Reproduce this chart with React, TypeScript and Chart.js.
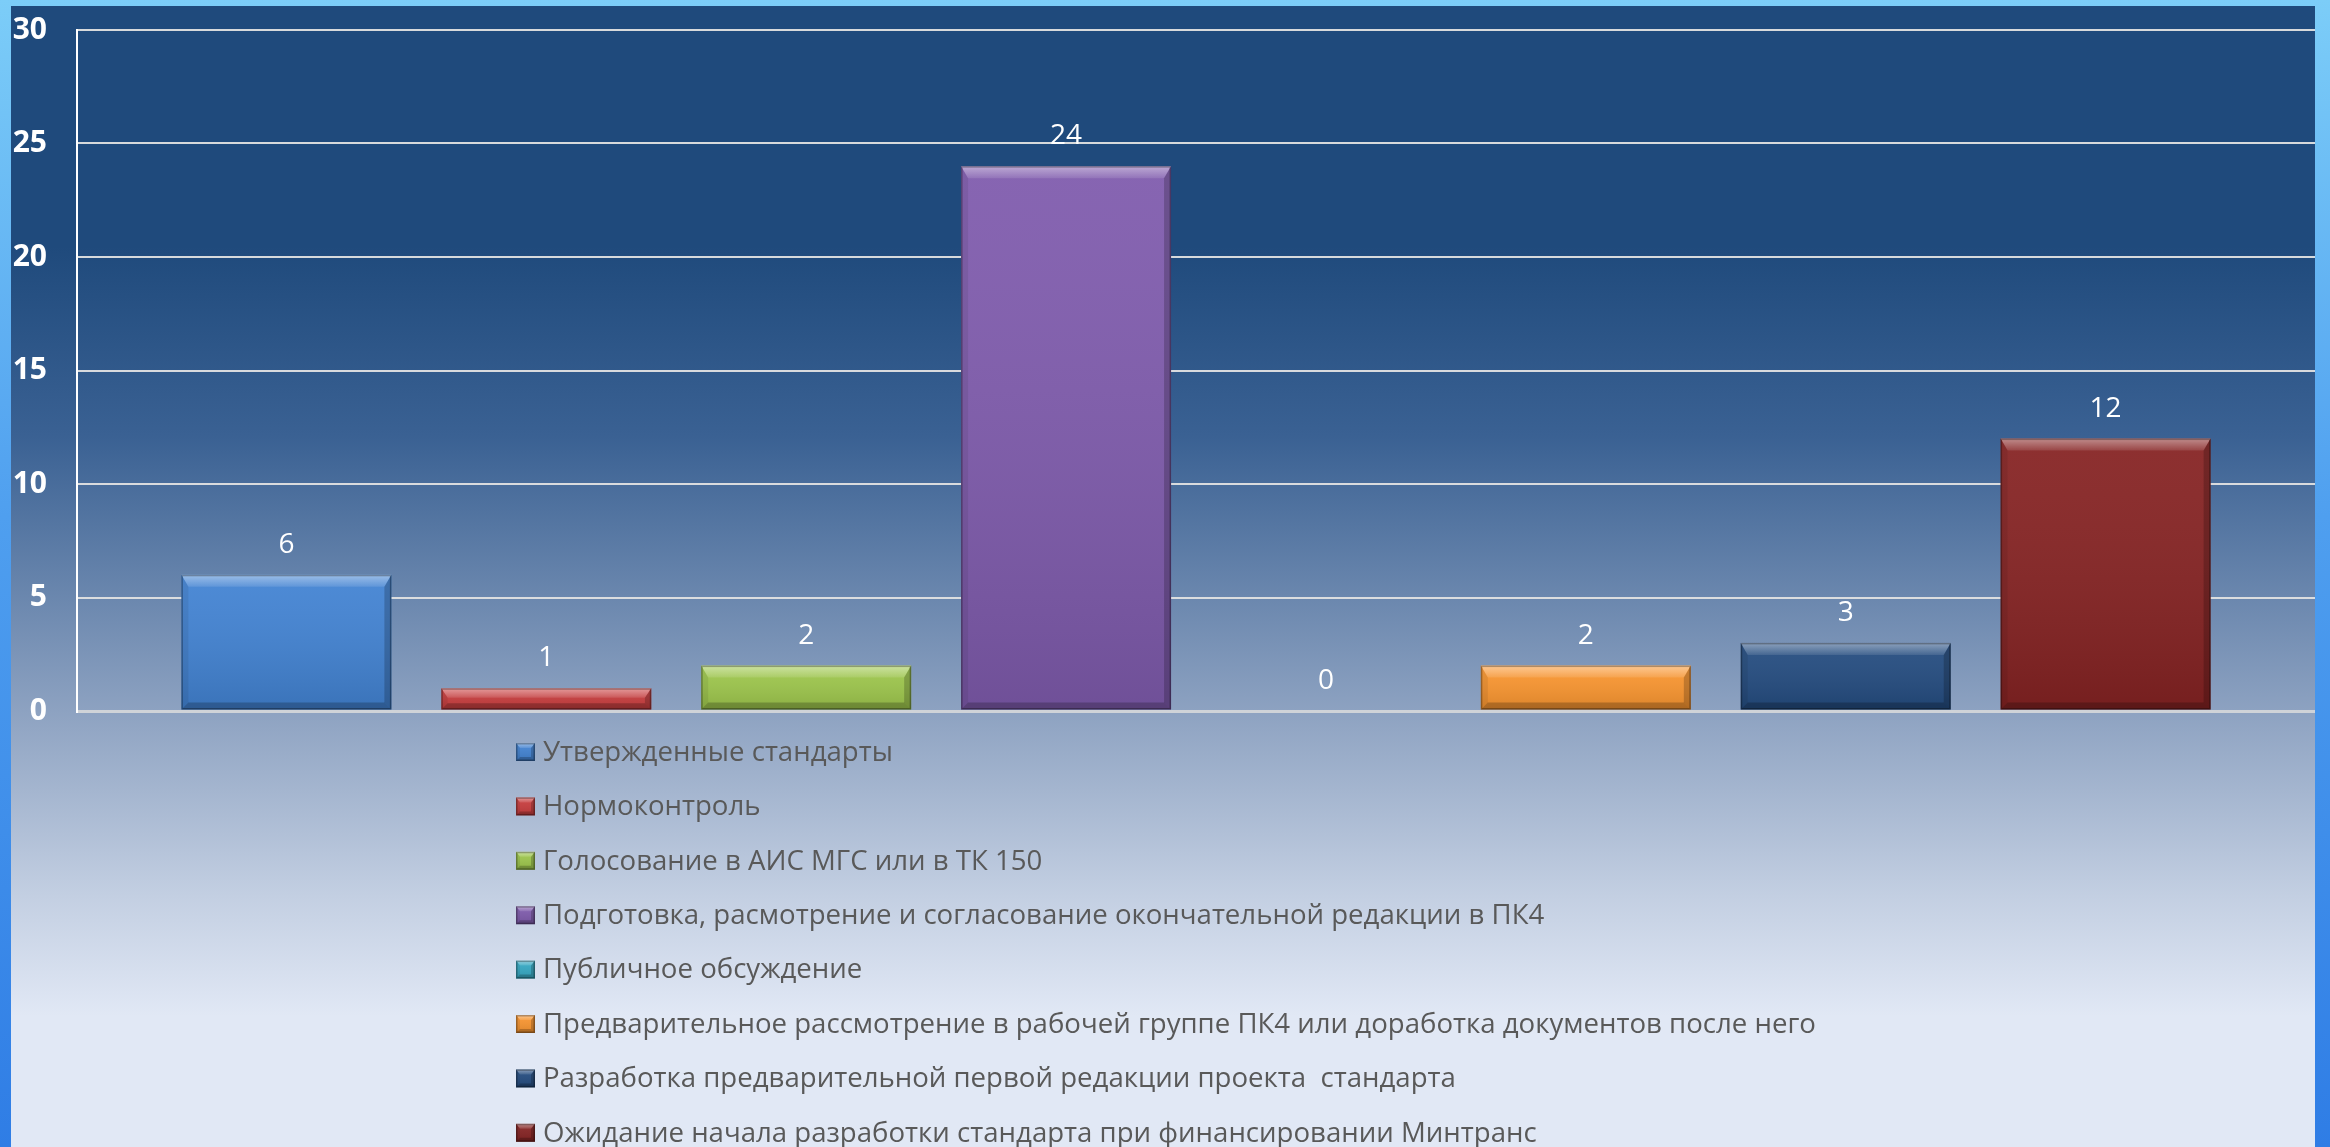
import React, { useEffect, useRef } from 'react';
import { Chart, registerables } from 'chart.js';

Chart.register(...registerables);

const categories = [''];
const seriesNames = [
  'Утвержденные стандарты',
  'Нормоконтроль',
  'Голосование в АИС МГС или в ТК 150',
  'Подготовка, расмотрение и согласование окончательной редакции в ПК4',
  'Публичное обсуждение',
  'Предварительное рассмотрение в рабочей группе ПК4 или доработка документов после него',
  'Разработка предварительной первой редакции проекта  стандарта',
  'Ожидание начала разработки стандарта при финансировании Минтранс',
];
const seriesValues = [6, 1, 2, 24, 0, 2, 3, 12];
const seriesColors = ['#4283d3', '#c93d3e', '#9ec74c', '#7f5bad', '#35a9c4', '#fa9630', '#244c80', '#862323'];
const yMin = 0;
const yMax = 30;
const yStep = 5;

const FONT = '"Open Sans", "Noto Sans", sans-serif';

function bevelRect(ctx: CanvasRenderingContext2D, l: number, t: number, r: number, b: number, topB: number, sideB: number) {
  const w = r - l;
  const h = b - t;
  const g = ctx.createLinearGradient(0, t, 0, b);
  g.addColorStop(0, 'rgba(255,255,255,0.06)');
  g.addColorStop(1, 'rgba(0,0,0,0.12)');
  ctx.fillStyle = g;
  ctx.fillRect(l, t, w, h);
  const tg = ctx.createLinearGradient(0, t, 0, t + topB);
  tg.addColorStop(0, 'rgba(255,255,255,0.45)');
  tg.addColorStop(1, 'rgba(255,255,255,0.10)');
  ctx.fillStyle = tg;
  ctx.beginPath();
  ctx.moveTo(l, t);
  ctx.lineTo(r, t);
  ctx.lineTo(r - sideB, t + topB);
  ctx.lineTo(l + sideB, t + topB);
  ctx.closePath();
  ctx.fill();
  ctx.fillStyle = 'rgba(0,0,0,0.07)';
  ctx.beginPath();
  ctx.moveTo(l, t);
  ctx.lineTo(l + sideB, t + topB);
  ctx.lineTo(l + sideB, b - sideB);
  ctx.lineTo(l, b);
  ctx.closePath();
  ctx.fill();
  ctx.fillStyle = 'rgba(0,0,0,0.2)';
  ctx.beginPath();
  ctx.moveTo(r, t);
  ctx.lineTo(r - sideB, t + topB);
  ctx.lineTo(r - sideB, b - sideB);
  ctx.lineTo(r, b);
  ctx.closePath();
  ctx.fill();
  ctx.fillStyle = 'rgba(0,0,0,0.22)';
  ctx.beginPath();
  ctx.moveTo(l, b);
  ctx.lineTo(l + sideB, b - sideB);
  ctx.lineTo(r - sideB, b - sideB);
  ctx.lineTo(r, b);
  ctx.closePath();
  ctx.fill();
  ctx.strokeStyle = 'rgba(0,0,0,0.3)';
  ctx.lineWidth = 1.5;
  ctx.strokeRect(l + 0.75, t + 0.75, w - 1.5, h - 1.5);
}

const bevelPlugin = {
  id: 'bevelBars',
  afterDatasetsDraw(chart: any) {
    const ctx: CanvasRenderingContext2D = chart.ctx;
    chart.data.datasets.forEach((ds: any, i: number) => {
      const meta = chart.getDatasetMeta(i);
      meta.data.forEach((el: any) => {
        const { x, y, base, width } = el.getProps(['x', 'y', 'base', 'width'], true);
        const h = base - y;
        if (h < 1) return;
        ctx.save();
        const topB = Math.min(12, h * 0.45);
        const sideB = Math.min(7, h * 0.3);
        bevelRect(ctx, x - width / 2, y, x + width / 2, base, topB, sideB);
        ctx.restore();
      });
    });
    ctx.save();
    ctx.fillStyle = '#ffffff';
    ctx.font = `400 28px ${FONT}`;
    ctx.textAlign = 'center';
    ctx.textBaseline = 'middle';
    chart.data.datasets.forEach((ds: any, i: number) => {
      const meta = chart.getDatasetMeta(i);
      meta.data.forEach((el: any, j: number) => {
        const { x, y } = el.getProps(['x', 'y'], true);
        ctx.fillText(String(ds.data[j]), x, y - 30);
      });
    });
    ctx.restore();
  },
};

const legendPlugin = {
  id: 'customLegend',
  afterDraw(chart: any) {
    const ctx: CanvasRenderingContext2D = chart.ctx;
    const area = chart.chartArea;
    const startY = area.bottom + 41;
    const rowH = 54.4;
    const boxX = 516;
    const boxW = 19;
    const boxH = 18;
    ctx.save();
    ctx.font = `400 27.6px ${FONT}`;
    ctx.textBaseline = 'middle';
    ctx.textAlign = 'left';
    chart.data.datasets.forEach((ds: any, i: number) => {
      const cy = startY + i * rowH;
      const t = cy - boxH / 2;
      ctx.fillStyle = ds.backgroundColor;
      ctx.fillRect(boxX, t, boxW, boxH);
      bevelRect(ctx, boxX, t, boxX + boxW, t + boxH, 5, 4);
      ctx.fillStyle = '#595959';
      ctx.fillText(ds.label, boxX + 27, cy + 1);
    });
    ctx.restore();
  },
};

export default function App() {
  const canvasRef = useRef<HTMLCanvasElement | null>(null);

  useEffect(() => {
    document.body.style.margin = '0';
    const canvas = canvasRef.current;
    if (!canvas) return;
    const chart = new Chart(canvas, {
      type: 'bar',
      data: {
        labels: categories,
        datasets: seriesNames.map((name, i) => ({
          label: name,
          data: [seriesValues[i]],
          backgroundColor: seriesColors[i],
          borderWidth: 0,
        })),
      },
      options: {
        animation: false,
        responsive: false,
        maintainAspectRatio: false,
        layout: { padding: { left: 0, top: 30, right: 15, bottom: 436 } },
        datasets: {
          bar: { categoryPercentage: 0.929, barPercentage: 0.808 },
        },
        plugins: {
          legend: { display: false },
          tooltip: { enabled: false },
        },
        scales: {
          x: {
            display: false,
            offset: true,
          },
          y: {
            min: yMin,
            max: yMax,
            afterFit: (scale: any) => {
              scale.width = 77;
            },
            ticks: {
              stepSize: yStep,
              color: '#ffffff',
              padding: 0,
              font: { family: FONT, size: 30, weight: 'bold' },
            },
            grid: {
              drawTicks: true,
              tickLength: 30,
              tickColor: 'rgba(0,0,0,0)',
              color: (c: any) => (c.tick && c.tick.value === 0 ? '#cfd3d8' : 'rgba(225,225,225,0.95)'),
              lineWidth: (c: any) => (c.tick && c.tick.value === 0 ? 3 : 2),
            },
            border: { display: true, color: '#ffffff', width: 2 },
          },
        },
      },
      plugins: [bevelPlugin, legendPlugin],
    });
    return () => chart.destroy();
  }, []);

  return (
    <div
      style={{
        position: 'fixed',
        left: 0,
        top: 0,
        width: 2330,
        height: 1147,
        overflow: 'hidden',
        background: 'linear-gradient(to bottom, #7ccdf8 0%, #4f9fef 45%, #2f7de5 100%)',
      }}
    >
      <div
        style={{
          position: 'absolute',
          left: 11,
          top: 6,
          width: 2304,
          height: 1141,
          background:
            'linear-gradient(to bottom, #1f4a7c 0px, #1f4a7c 240px, #3a6193 430px, #8da2c1 705px, #c3cfe2 890px, #e1e8f5 1010px, #e1e8f5 1141px)',
        }}
      />
      <canvas
        ref={canvasRef}
        width={2330}
        height={1147}
        style={{ position: 'absolute', left: 0, top: 0, width: 2330, height: 1147 }}
      />
    </div>
  );
}
